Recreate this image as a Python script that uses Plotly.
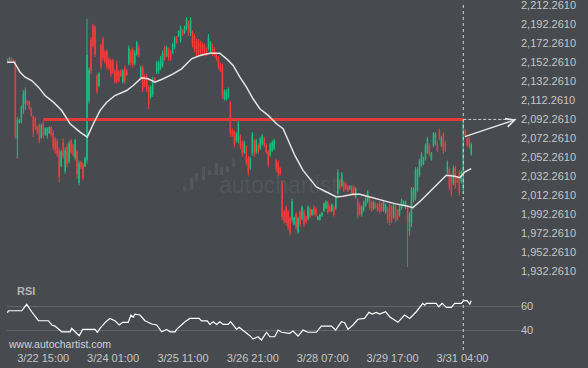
import plotly.graph_objects as go

# ---------------- data ----------------
open_ = [
    2152, 2155, 2157, 2155, 2154, 2072, 2089, 2090, 2104, 2108,
    2112, 2111, 2104, 2096, 2093, 2085, 2086, 2073, 2088, 2076,
    2075, 2078, 2084, 2078, 2072, 2069, 2060, 2043, 2068, 2038,
    2064, 2048, 2070, 2065, 2052, 2058, 2026, 2048, 2045, 2043,
    2050, 2112, 2176, 2191, 2189, 2138, 2128, 2170, 2177, 2163,
    2164, 2156, 2154, 2154, 2143,
    2150, 2142, 2144, 2132, 2146, 2144, 2151, 2164, 2166, 2151,
    2161, 2168, 2137, 2147, 2138, 2138, 2126, 2116, 2118, 2136,
    2142, 2143, 2146, 2149, 2168, 2159, 2166, 2163, 2162, 2168,
    2179, 2180, 2175, 2186, 2183, 2188, 2194, 2183, 2184, 2180,
    2175, 2174, 2173, 2171, 2170, 2167, 2167, 2163, 2170, 2166,
    2162, 2157, 2150, 2148, 2114, 2114, 2116, 2110,
    2081, 2079, 2070, 2069, 2075, 2068, 2058, 2063, 2052, 2041,
    2057, 2070, 2058, 2065, 2062, 2067, 2072, 2065, 2058, 2055,
    2060, 2062, 2049, 2047, 2041, 2026, 1995, 2000, 1995, 1988,
    1987, 1982, 1993, 1974, 1995, 1988, 1995, 1990, 1988, 1998,
    1992, 2000, 1998, 1987, 1987, 1991, 1996, 1999, 2005, 2001,
    1996, 2000, 1999, 2014, 2028, 2023, 2026, 2025,
    2022, 2019, 2021, 2021, 2011, 2007, 2002, 1992, 1997, 2002,
    2006, 2009, 2005, 1999, 2004, 2003, 2005, 2004, 1997, 1995,
    1998, 2002, 2000, 1990, 2000, 1997, 1992, 1999, 2003, 2000,
    2001, 1975, 1983, 2007, 2010, 2018, 2034, 2044, 2045, 2051,
    2058, 2065, 2050, 2065, 2067, 2068, 2081, 2065, 2077, 2068,
    2037, 2040, 2033, 2025, 2042, 2032, 2037, 2027, 2018, 2081,
    2072, 2072, 2056,
]
high = [
    2156, 2158, 2157, 2156, 2154, 2095, 2093, 2107, 2123, 2126,
    2112, 2112, 2105, 2096, 2095, 2086, 2088, 2088, 2091, 2084,
    2084, 2085, 2085, 2081, 2074, 2072, 2063, 2060, 2072, 2063,
    2067, 2070, 2072, 2067, 2072, 2060, 2049, 2049, 2047, 2053,
    2198, 2147, 2179, 2193, 2191, 2140, 2142, 2172, 2179, 2165,
    2166, 2158, 2156, 2156, 2145,
    2154, 2144, 2145, 2145, 2149, 2145, 2170, 2166, 2168, 2165,
    2175, 2170, 2149, 2149, 2140, 2140, 2128, 2128, 2137, 2137,
    2154, 2154, 2159, 2165, 2170, 2170, 2168, 2165, 2173, 2180,
    2180, 2186, 2191, 2187, 2191, 2200, 2196, 2200, 2186, 2182,
    2177, 2177, 2175, 2173, 2172, 2168, 2182, 2175, 2172, 2168,
    2163, 2159, 2152, 2151, 2124, 2124, 2126, 2112,
    2083, 2081, 2079, 2091, 2077, 2070, 2070, 2065, 2054, 2053,
    2079, 2072, 2072, 2067, 2074, 2077, 2074, 2067, 2060, 2068,
    2070, 2072, 2051, 2049, 2042, 2028, 1997, 2002, 1997, 1990,
    2009, 1990, 1995, 1990, 1997, 2002, 1997, 1991, 2002, 2000,
    1998, 2002, 2000, 1991, 1993, 1995, 2005, 2007, 2007, 2002,
    2004, 2002, 2011, 2040, 2030, 2037, 2028, 2026,
    2023, 2023, 2023, 2023, 2021, 2009, 2004, 2002, 2007, 2011,
    2018, 2011, 2007, 2007, 2005, 2004, 2007, 2005, 2007, 2004,
    2000, 2004, 2002, 2004, 2002, 1998, 2002, 2009, 2007, 2007,
    2002, 1995, 2021, 2021, 2042, 2042, 2051, 2058, 2053, 2067,
    2074, 2067, 2058, 2079, 2079, 2070, 2082, 2075, 2079, 2070,
    2049, 2042, 2035, 2044, 2044, 2033, 2039, 2039, 2093, 2082,
    2074, 2074, 2068,
]
low = [
    2151, 2153, 2153, 2152, 2072, 2051, 2088, 2088, 2098, 2102,
    2107, 2102, 2095, 2074, 2081, 2077, 2067, 2072, 2072, 2075,
    2072, 2077, 2074, 2060, 2056, 2053, 2026, 2042, 2051, 2035,
    2042, 2046, 2056, 2053, 2049, 2030, 2023, 2040, 2028, 2042,
    2046, 2109, 2140, 2168, 2158, 2119, 2126, 2145, 2154, 2151,
    2145, 2144, 2137, 2140, 2130,
    2130, 2131, 2137, 2130, 2130, 2138, 2149, 2149, 2147, 2149,
    2159, 2158, 2135, 2121, 2126, 2121, 2103, 2114, 2116, 2131,
    2140, 2140, 2144, 2147, 2154, 2158, 2154, 2154, 2161, 2166,
    2172, 2179, 2173, 2180, 2182, 2186, 2180, 2180, 2168, 2163,
    2159, 2159, 2161, 2159, 2161, 2159, 2165, 2161, 2159, 2158,
    2154, 2145, 2142, 2114, 2112, 2112, 2114, 2074,
    2074, 2063, 2068, 2067, 2061, 2053, 2056, 2044, 2033, 2039,
    2054, 2053, 2056, 2056, 2060, 2065, 2063, 2056, 2042, 2053,
    2058, 2060, 2037, 2033, 2033, 1986, 1983, 1981, 1976, 1970,
    1984, 1981, 1976, 1972, 1979, 1986, 1979, 1983, 1986, 1988,
    1991, 1991, 1990, 1986, 1986, 1990, 1995, 1998, 1993, 1995,
    1995, 1990, 1997, 2012, 2018, 2021, 2016, 2018,
    2016, 2018, 2012, 2011, 2009, 1988, 1991, 1990, 1995, 2000,
    2004, 1997, 1995, 1997, 1998, 1995, 1993, 1995, 1995, 1993,
    1983, 1981, 1983, 1988, 1984, 1986, 1990, 1997, 2002, 1998,
    1937, 1970, 1979, 2005, 2007, 2016, 2032, 2042, 2044, 2049,
    2056, 2053, 2049, 2063, 2065, 2058, 2070, 2063, 2056, 2058,
    2035, 2018, 2011, 2023, 2019, 2025, 2012, 2025, 2014, 2074,
    2063, 2061, 2054,
]
close = [
    2155, 2157, 2154, 2154, 2074, 2092, 2092, 2105, 2120, 2122,
    2108, 2104, 2097, 2078, 2084, 2079, 2070, 2086, 2075, 2083,
    2083, 2084, 2076, 2063, 2060, 2056, 2032, 2058, 2054, 2060,
    2045, 2067, 2058, 2055, 2070, 2034, 2046, 2042, 2031, 2051,
    2160, 2144, 2143, 2170, 2161, 2122, 2140, 2148, 2157, 2153,
    2148, 2146, 2140, 2142, 2132,
    2133, 2133, 2138, 2143, 2133, 2139, 2167, 2152, 2150, 2162,
    2173, 2160, 2147, 2124, 2128, 2124, 2107, 2126, 2134, 2132,
    2152, 2152, 2157, 2162, 2156, 2168, 2157, 2156, 2171, 2178,
    2173, 2185, 2189, 2181, 2190, 2198, 2183, 2197, 2171, 2166,
    2162, 2161, 2163, 2161, 2163, 2161, 2179, 2173, 2161, 2160,
    2156, 2148, 2144, 2117, 2122, 2122, 2124, 2078,
    2075, 2066, 2077, 2088, 2064, 2056, 2068, 2047, 2036, 2051,
    2076, 2056, 2070, 2058, 2072, 2075, 2065, 2058, 2045, 2066,
    2068, 2070, 2040, 2036, 2035, 1990, 1986, 1984, 1979, 1973,
    2006, 1989, 1979, 1988, 1982, 2000, 1982, 1985, 2000, 1990,
    1997, 1993, 1992, 1990, 1992, 1994, 2004, 2006, 1995, 1996,
    2003, 1992, 2009, 2037, 2020, 2035, 2018, 2019,
    2017, 2022, 2014, 2013, 2019, 1991, 1993, 2000, 2005, 2009,
    2016, 1999, 1997, 2005, 1999, 1996, 1995, 1996, 2005, 2002,
    1986, 1984, 1986, 2002, 1987, 1988, 2000, 2007, 2006, 2006,
    1985, 1993, 2018, 2019, 2039, 2040, 2049, 2056, 2052, 2065,
    2072, 2055, 2057, 2077, 2077, 2060, 2072, 2073, 2059, 2060,
    2047, 2021, 2014, 2041, 2022, 2026, 2015, 2037, 2090, 2076,
    2065, 2064, 2066,
]
candle_idx = list(range(len(close)))

# moving average
ma_idx = [0, 3.4, 6.4, 8.9, 12.2, 15.6, 18.9, 23.1, 27.3, 31.5,
          36.5, 40.1, 43.2, 46.5, 49.9, 54.0, 59.9, 63.2, 67.4, 70.7,
          74.1, 78.3, 83.3, 87.5, 92.5, 96.7, 101.7, 106.7, 110.1, 113.4,
          116.8, 120.1, 123.4, 126.8, 131.0, 135.2, 138.5, 141.0, 144.4, 148.5,
          151.9, 155.2, 160.3, 165.3, 168.6, 173.6, 177.0, 182.0, 187.0, 192.0,
          194.5, 201.2, 203.7, 207.9, 213.0, 218.0, 220.5, 224.7, 227.2, 229.7,
          233.0]
ma_val = [2152.4, 2152.4, 2141.9, 2136.7, 2133.2, 2126.2, 2117.4, 2110.4, 2101.6, 2087.7,
          2078.9, 2073.7, 2087.7, 2101.6, 2110.4, 2117.4, 2122.7, 2127.9, 2136.0, 2135.0,
          2131.4, 2135.0, 2140.2, 2145.5, 2156.0, 2159.4, 2161.9, 2161.9, 2156.0, 2149.0,
          2136.7, 2126.2, 2114.0, 2103.5, 2096.5, 2087.7, 2082.5, 2070.2, 2054.4, 2038.7,
          2030.0, 2021.2, 2015.9, 2010.7, 2011.4, 2013.5, 2013.5, 2010.7, 2007.9, 2005.4,
          2003.7, 2000.9, 1999.5, 2007.2, 2017.7, 2028.2, 2033.5, 2032.4, 2031.0, 2036.9,
          2040.5]

# RSI
rsi_idx = [0, 0.5, 7.2, 9.7, 12.2, 13.9, 15.6, 20.6, 22.3, 23.9,
           26.4, 27.3, 31.5, 32.3, 34.0, 36.1, 37.8, 44.0, 45.2, 46.5,
           49.5, 51.5, 54.0, 56.2, 57.9, 60.7, 62.1, 63.2, 64.1, 66.6,
           69.1, 72.5, 75.0, 77.5, 80.0, 81.7, 84.2, 85.0, 89.2, 91.7,
           96.3, 97.5, 100.4, 101.7, 103.4, 105.1, 106.7, 108.4, 110.9, 112.1,
           113.4, 115.1, 116.4, 119.3, 121.8, 123.4, 125.9, 127.6, 130.2, 131.8,
           134.3, 136.0, 137.7, 141.8, 143.5, 146.0, 148.5, 151.0, 155.2, 157.7,
           162.8, 164.9, 167.8, 169.4, 171.1, 173.6, 176.1, 179.4, 181.6, 183.3,
           185.3, 187.0, 190.0, 192.0, 196.2, 199.5, 202.1, 205.4, 208.7, 209.6,
           210.4, 215.4, 216.7, 218.4, 220.5, 223.0, 224.7, 228.0, 229.2, 230.9,
           232.3, 233.0]
rsi_val = [54.5, 56.1, 56.1, 61.4, 55.3, 51.2, 47.9, 47.9, 44.4, 43.5,
           40.2, 38.8, 38.8, 41.6, 38.8, 35.6, 40.8, 40.8, 38.4, 41.6,
           47.1, 49.8, 47.9, 44.4, 46.6, 46.6, 52.6, 50.7, 53.4, 52.6,
           47.9, 45.2, 44.4, 38.8, 40.8, 38.8, 38.8, 40.8, 47.1, 49.8,
           49.8, 47.7, 47.7, 44.9, 47.1, 44.9, 47.1, 44.9, 44.9, 47.1,
           44.4, 40.8, 42.5, 38.8, 35.6, 32.8, 34.7, 32.0, 38.4, 34.7,
           34.7, 40.2, 38.4, 37.5, 39.4, 35.3, 40.2, 38.4, 38.4, 43.5,
           43.5, 40.2, 47.1, 46.3, 40.8, 44.4, 49.1, 49.8, 54.8, 53.4,
           54.8, 53.4, 55.3, 51.2, 46.6, 52.6, 49.8, 55.3, 62.2, 60.8,
           62.2, 62.2, 59.4, 62.2, 58.9, 58.9, 62.2, 62.2, 64.4, 64.4,
           61.6, 64.4]

price_ticks = [2212.261, 2192.261, 2172.261, 2152.261, 2132.261, 2112.261, 2092.261,
               2072.261, 2052.261, 2032.261, 2012.261, 1992.261, 1972.261, 1952.261, 1932.261]
rsi_ticks = [40, 60]
time_tick_pos = [18, 53.1, 88.2, 123.3, 158.4, 193.5, 228.6]
time_tick_labels = ["3/22 15:00", "3/24 01:00", "3/25 11:00", "3/26 21:00",
                    "3/28 07:00", "3/29 17:00", "3/31 04:00"]

level_price = 2092.261      # resistance level
level_start_idx = 18
now_idx = 229               # 3/31 04:00 candle
target_idx = 255.6
arrow_start_price = 2073.7

# ---------------- styling ----------------
BG = "#474a4f"
GREEN = "#16c283"
RED = "#f83b3b"
TXT = "#c6c6c6"
FONT = "Arial, Liberation Sans, sans-serif"

fig = go.Figure()
fig.add_trace(go.Candlestick(
    x=candle_idx, open=open_, high=high, low=low, close=close,
    increasing=dict(line=dict(color=GREEN, width=1), fillcolor=GREEN),
    decreasing=dict(line=dict(color=RED, width=1), fillcolor=RED),
    whiskerwidth=0, xaxis="x", yaxis="y", showlegend=False, hoverinfo="skip"))
fig.add_trace(go.Scatter(
    x=[level_start_idx, now_idx], y=[level_price, level_price], mode="lines",
    line=dict(color="#e5383b", width=3), xaxis="x", yaxis="y", hoverinfo="skip"))
fig.add_trace(go.Scatter(
    x=ma_idx, y=ma_val, mode="lines", line=dict(color="#e4e4e4", width=1.5),
    xaxis="x", yaxis="y", hoverinfo="skip"))
fig.add_trace(go.Scatter(
    x=[now_idx, target_idx], y=[level_price, level_price], mode="lines",
    line=dict(color="#cfcfcf", width=1, dash="3px,2px"), xaxis="x", yaxis="y", hoverinfo="skip"))
fig.add_trace(go.Scatter(
    x=rsi_idx, y=rsi_val, mode="lines", line=dict(color="#ffffff", width=1.2),
    xaxis="x2", yaxis="y2", hoverinfo="skip"))

# watermark logo bars (decoration)
logo_bars = [(0.343, 0.349, 0.461, 0.475), (0.357, 0.363, 0.464, 0.501),
             (0.366, 0.372, 0.490, 0.513), (0.380, 0.386, 0.493, 0.530),
             (0.392, 0.398, 0.507, 0.522), (0.405, 0.411, 0.507, 0.542),
             (0.415, 0.421, 0.507, 0.530), (0.427, 0.433, 0.516, 0.533),
             (0.439, 0.444, 0.530, 0.557)]
shapes = [dict(type="rect", xref="paper", yref="paper", x0=a, x1=b, y0=c, y1=d,
               fillcolor="rgba(255,255,255,0.07)", line=dict(width=0), layer="below")
          for a, b, c, d in logo_bars]
shapes.append(dict(type="line", xref="x", yref="paper", x0=now_idx, x1=now_idx, y0=0, y1=1,
                   line=dict(color="#d5d5d5", width=1, dash="3px,3px")))

annotations = [
    dict(x=target_idx, y=level_price, xref="x", yref="y",
         ax=now_idx, ay=arrow_start_price, axref="x", ayref="y",
         showarrow=True, arrowhead=5, arrowsize=1.4, arrowwidth=1.2,
         arrowcolor="#e6e6e6", text=""),
    dict(x=0.0156, y=0.1696, xref="paper", yref="paper", text="<b>RSI</b>",
         showarrow=False, xanchor="left", yanchor="middle",
         font=dict(size=11, color="#b4b4b4", family=FONT)),
    dict(x=-0.002, y=0.016, xref="paper", yref="paper", text="www.autochartist.com",
         showarrow=False, xanchor="left", yanchor="middle",
         font=dict(size=10.5, color="#d2d2d2", family=FONT)),
    dict(x=0.409, y=0.478, xref="paper", yref="paper", text="autochartist",
         showarrow=False, xanchor="left", yanchor="middle",
         font=dict(size=23, color="rgba(255,255,255,0.07)", family=FONT)),
]

fig.update_layout(
    width=588, height=368,
    margin=dict(l=7, r=68, t=5, b=18, autoexpand=False),
    paper_bgcolor=BG, plot_bgcolor=BG, showlegend=False,
    boxgap=0.6,
    font=dict(family=FONT, size=11, color=TXT),
    xaxis=dict(domain=[0, 1], anchor="y", range=[-0.2, 257.5], showticklabels=False,
               showgrid=False, zeroline=False, rangeslider=dict(visible=False), ticks="",
               automargin=False),
    yaxis=dict(domain=[0.2029, 1], anchor="x", side="right", range=[1923.4, 2212.6],
               tickvals=price_ticks, tickformat=",.4f", showgrid=False, zeroline=False,
               ticks="", ticklabeloverflow="allow", automargin=False,
               tickfont=dict(size=11, color=TXT)),
    xaxis2=dict(domain=[0, 1], anchor="y2", range=[-0.2, 257.5], matches="x",
                tickvals=time_tick_pos, ticktext=time_tick_labels, showgrid=False,
                zeroline=False, ticks="", automargin=False, tickfont=dict(size=11, color=TXT)),
    yaxis2=dict(domain=[0, 0.1855], anchor="x2", side="right", range=[23.8, 76.5],
                tickvals=rsi_ticks, showgrid=True, gridcolor="#62666b", gridwidth=1,
                zeroline=False, ticks="", automargin=False, tickfont=dict(size=11, color=TXT)),
    shapes=shapes, annotations=annotations,
)

fig.write_html(
    "out.html",
    config={"displayModeBar": False},
    post_script="document.body.style.margin='0';document.body.style.padding='0';"
                "document.body.style.overflow='hidden';document.body.style.background='" + BG + "';",
)
